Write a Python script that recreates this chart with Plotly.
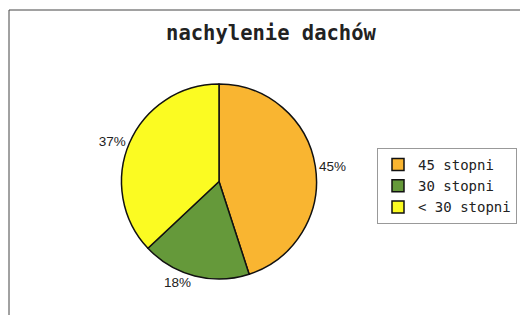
import plotly.graph_objects as go

labels = ["45 stopni", "30 stopni", "< 30 stopni"]
values = [45, 18, 37]
colors = ["#F9B531", "#65993A", "#FBFB22"]
title = "nachylenie dachów"

W, H = 520, 315

fig = go.Figure(go.Pie(
    labels=labels,
    values=values,
    sort=False,
    direction="clockwise",
    rotation=0,
    marker=dict(colors=colors, line=dict(color="#111111", width=1.5)),
    textinfo="percent",
    textposition="outside",
    texttemplate="%{percent:.0%}",
    textfont=dict(family="Liberation Sans, Arial, sans-serif", size=13.5, color="#222222"),
    domain=dict(x=[121 / W, 317 / W], y=[1 - 279 / H, 1 - 84 / H]),
    hoverinfo="skip",
))

fig.update_layout(
    width=W, height=H,
    margin=dict(l=0, r=0, t=0, b=0),
    paper_bgcolor="white",
    plot_bgcolor="white",
    title=dict(
        text=title,
        x=271 / W, xanchor="center",
        y=1 - 33 / H, yanchor="middle",
        font=dict(family="DejaVu Sans Mono, monospace", size=20.5, color="#222222", weight="bold"),
    ),
    showlegend=True,
    legend=dict(
        x=377 / W, xanchor="left",
        y=1 - 148 / H, yanchor="top",
        bordercolor="#999999", borderwidth=1,
        bgcolor="white",
        font=dict(family="DejaVu Sans Mono, monospace", size=14, color="#222222"),
        itemwidth=30,
    ),
    shapes=[
        dict(type="line", xref="paper", yref="paper", x0=9 / W, x1=1, y0=1 - 10 / H, y1=1 - 10 / H,
             line=dict(color="#444444", width=1)),
        dict(type="line", xref="paper", yref="paper", x0=9 / W, x1=9 / W, y0=0, y1=1 - 10 / H,
             line=dict(color="#444444", width=1)),
    ],
)

fig.write_html("out.html", config={"displayModeBar": False},
               post_script="document.body.style.margin='0';")
